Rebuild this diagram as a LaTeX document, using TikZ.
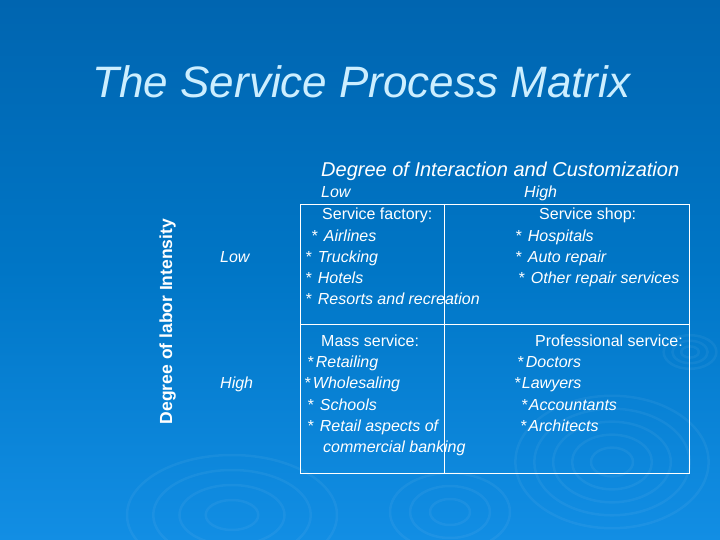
\documentclass[tikz,border=0pt]{standalone}
\usepackage{fontspec}
\setmainfont{Liberation Sans}
\usetikzlibrary{shadings}
\definecolor{bgtop}{RGB}{0,101,176}
\definecolor{bgmid}{RGB}{0,118,198}
\definecolor{bgbot}{RGB}{18,142,228}
\definecolor{titlecol}{RGB}{204,238,255}
\tikzset{
  txt/.style={anchor=base west, inner sep=0pt, text=white, font=\fontsize{16}{18}\selectfont\itshape},
  hdr/.style={anchor=base west, inner sep=0pt, text=white, font=\fontsize{16}{18}\selectfont},
  grid/.style={draw=white, line width=0.9pt},
  ripple/.style={draw=white, draw opacity=0.05, line width=2.5pt}
}
\newcommand{\itm}[2]{*\hspace{#1}#2}
\begin{document}
\begin{tikzpicture}[x=1pt,y=-1pt]
\useasboundingbox (0,0) rectangle (720,540);
\shade[top color=bgtop, bottom color=bgbot, middle color=bgmid] (0,0) rectangle (720,540);
% ripples
\foreach \r in {20,38,56,74,92} {\draw[ripple] (612,462) ellipse ({\r*1.05} and {\r*0.72});}
\foreach \r in {8,16,24} {\draw[ripple] (690,352) ellipse ({\r*1.1} and {\r*0.7});}
\foreach \r in {25,50,75,100} {\draw[ripple] (232,515) ellipse ({\r*1.05} and {\r*0.6});}
\foreach \r in {20,40,60} {\draw[ripple] (450,512) ellipse ({\r*1.0} and {\r*0.65});}
% title
\node[anchor=base, inner sep=0pt, text=titlecol, font=\fontsize{44}{48}\selectfont\itshape] (title) at (361.5,97.5) {The Service Process Matrix};
\node[txt, font=\fontsize{20}{22}\selectfont\itshape] (xaxis) at (321,176.5) {Degree of Interaction and Customization};
\node[anchor=base, inner sep=0pt, text=white, rotate=90, font=\fontsize{17.5}{19}\selectfont\bfseries] (yaxis) at (172,321.5) {Degree of labor Intensity};
% headers
\node[txt] (colLow) at (321,198) {Low};
\node[txt] (colHigh) at (524,198) {High};
\node[txt] (rowLow) at (220,262.5) {Low};
\node[txt] (rowHigh) at (220,388.5) {High};
% grid
\coordinate (tl) at (300,204);
\coordinate (br) at (689,473);
\draw[grid] (tl) rectangle (br);
\draw[grid] (444.5,204) -- (444.5,473);
\draw[grid] (300,324) -- (689,324);
% upper left
\node[hdr] (sf) at (322,220) {Service factory:};
\node[txt] (a1) at (311,241.5) {\itm{6.5pt}{Airlines}};
\node[txt] (a2) at (305,262.5) {\itm{6.5pt}{Trucking}};
\node[txt] (a3) at (305,283.5) {\itm{6.5pt}{Hotels}};
\node[txt] (a4) at (305,304.5) {\itm{6.5pt}{Resorts and recreation}};
% upper right
\node[hdr] (ss) at (539,220) {Service shop:};
\node[txt] (b1) at (515,241.5) {\itm{6.5pt}{Hospitals}};
\node[txt] (b2) at (515,262.5) {\itm{6.5pt}{Auto repair}};
\node[txt] (b3) at (518,283.5) {\itm{6.5pt}{Other repair services}};
% lower left
\node[hdr] (ms) at (321,346.5) {Mass service:};
\node[txt] (c1) at (307,367.5) {\itm{2.5pt}{Retailing}};
\node[txt] (c2) at (304,388.5) {\itm{2.5pt}{Wholesaling}};
\node[txt] (c3) at (307,410) {\itm{6.5pt}{Schools}};
\node[txt] (c4) at (307,431) {\itm{6.5pt}{Retail aspects of}};
\node[txt] (c5) at (323,452.5) {commercial banking};
% lower right
\node[hdr] (ps) at (535,346.5) {Professional service:};
\node[txt] (d1) at (517,367.5) {\itm{2.5pt}{Doctors}};
\node[txt] (d2) at (514,388.5) {\itm{1.5pt}{Lawyers}};
\node[txt] (d3) at (521,410) {\itm{1.5pt}{Accountants}};
\node[txt] (d4) at (520,431) {\itm{2pt}{Architects}};
\end{tikzpicture}
\end{document}
